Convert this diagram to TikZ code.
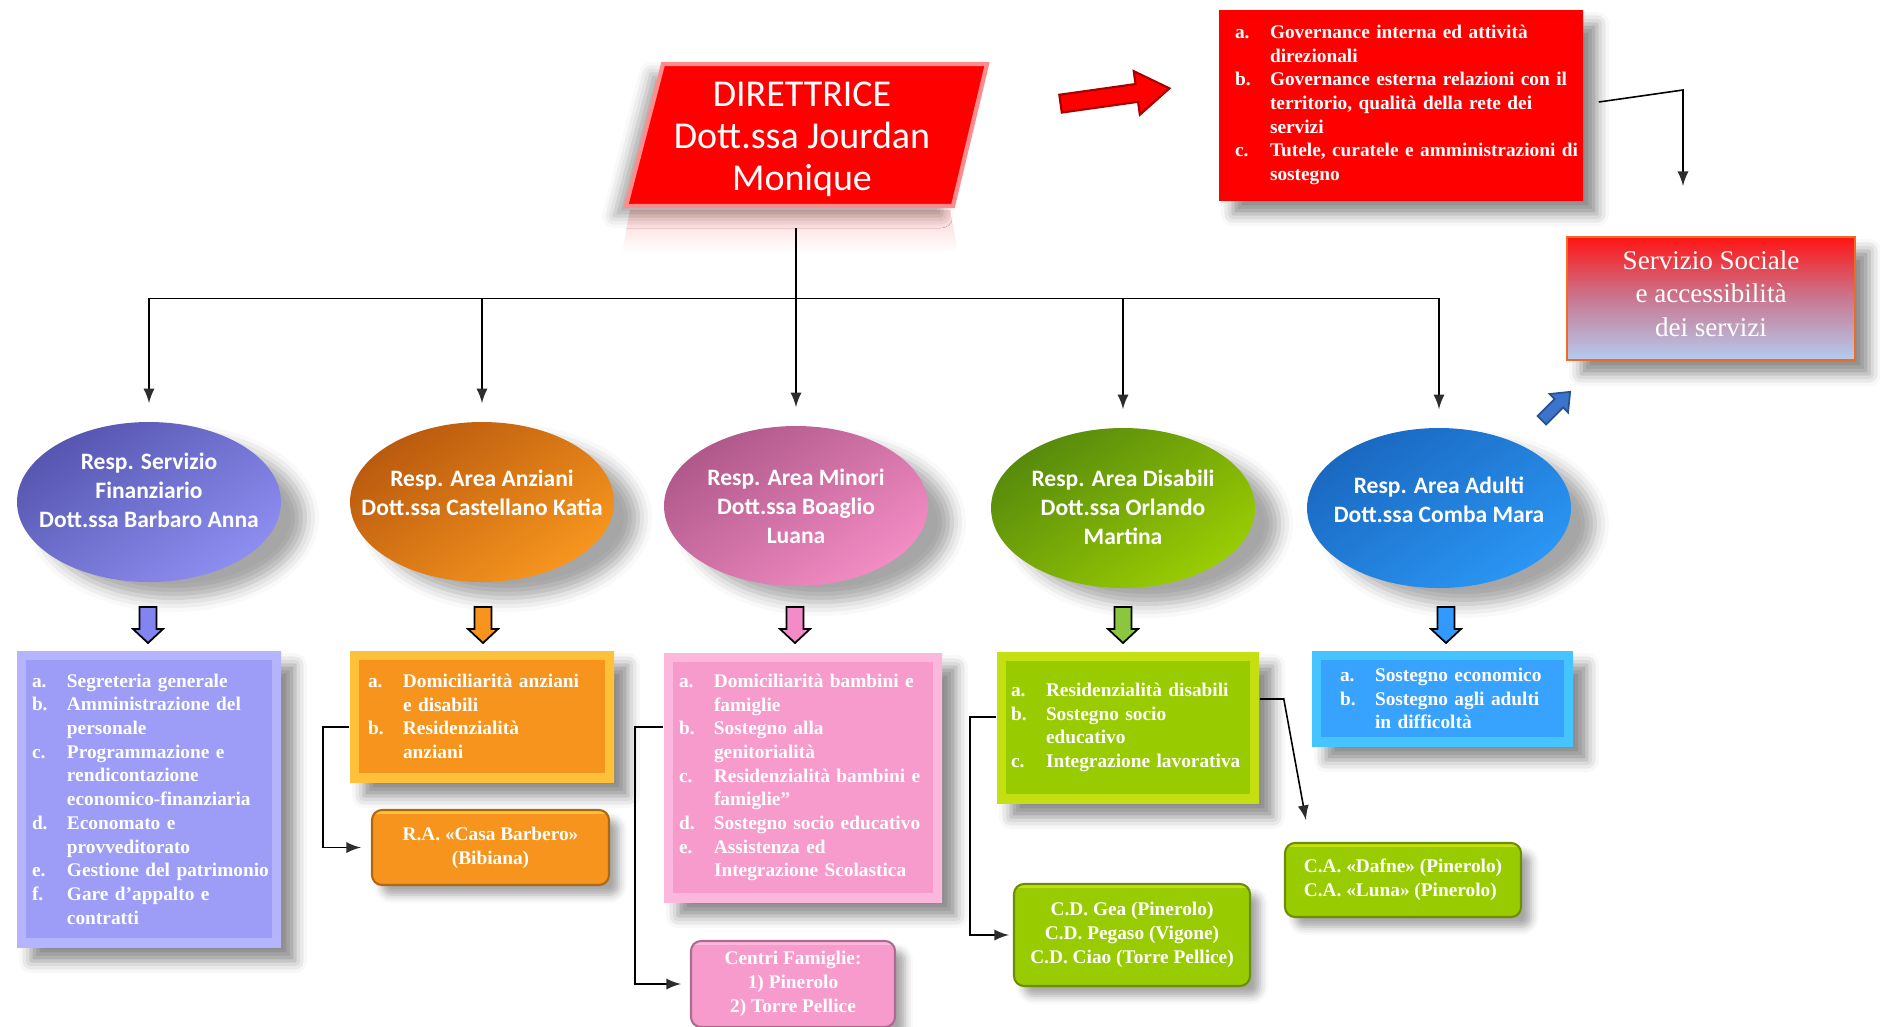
\documentclass[tikz,border=0pt]{standalone}
\usepackage{fontspec}
\setmainfont{Liberation Serif}
\newfontfamily\calib{Carlito}
\usetikzlibrary{shapes.geometric,shadows.blur}

% colours
\definecolor{finA}{HTML}{5656B0}
\definecolor{finB}{HTML}{8E8EF2}
\definecolor{finbox}{HTML}{9D9DF8}
\definecolor{finbev}{HTML}{B4B4FF}
\definecolor{arrfin}{HTML}{8484F0}
\definecolor{anzA}{HTML}{BA5A0E}
\definecolor{anzB}{HTML}{F7961E}
\definecolor{anzbox}{HTML}{F7941D}
\definecolor{anzbev}{HTML}{FFC03A}
\definecolor{arranz}{HTML}{F7941D}
\definecolor{minA}{HTML}{B0588A}
\definecolor{minB}{HTML}{F38DC4}
\definecolor{minbox}{HTML}{F79BCD}
\definecolor{minbev}{HTML}{FBB8DC}
\definecolor{arrmin}{HTML}{F58AC8}
\definecolor{disA}{HTML}{578A0C}
\definecolor{disB}{HTML}{9ACD02}
\definecolor{disbox}{HTML}{99CC00}
\definecolor{disbev}{HTML}{C4E010}
\definecolor{arrdis}{HTML}{8CC63F}
\definecolor{aduA}{HTML}{1A68C0}
\definecolor{aduB}{HTML}{2A96F4}
\definecolor{adubox}{HTML}{38A2FF}
\definecolor{adubev}{HTML}{46C4FF}
\definecolor{arradu}{HTML}{3399FF}
\definecolor{govbox}{HTML}{FF0000}
\definecolor{govbev}{HTML}{FA0000}
\definecolor{dirrim}{HTML}{FF8C8C}
\definecolor{servtop}{HTML}{FF1414}
\definecolor{servmid}{HTML}{C87890}
\definecolor{servbot}{HTML}{B4CCF0}
\definecolor{servrim}{HTML}{F26A22}
\definecolor{bluearr}{HTML}{3C74CC}

\newcommand{\li}[2]{\mbox{\makebox[3.5mm][l]{#1}#2}}
\newcommand{\lc}[1]{\mbox{\makebox[3.5mm]{}#1}}

\tikzset{
  resp/.style={ellipse, minimum width=26.4mm, minimum height=16mm, inner sep=0pt,
    top color=#1A, bottom color=#1B, shading angle=35,
    blur shadow={shadow xshift=2.4mm, shadow yshift=-1.6mm, shadow blur radius=1.4mm, shadow opacity=35}},
  elltext/.style={text=white, align=center, inner sep=0pt,
    font=\calib\bfseries\fontsize{6.7}{8.25}\selectfont},
  dirtext/.style={text=white, align=center, inner sep=0pt,
    font=\calib\fontsize{10.8}{11.95}\selectfont},
  listbox/.style={rectangle, fill=#1box, text=white, align=left, inner ysep=0pt,
    font=\bfseries\fontsize{5.5}{6.74}\selectfont,
    blur shadow={shadow xshift=1.4mm, shadow yshift=-1.4mm, shadow blur radius=1.2mm, shadow opacity=45},
    path picture={\draw[#1bev, line width=5pt] (path picture bounding box.south west) rectangle (path picture bounding box.north east);}},
  subbox/.style={rectangle, rounded corners=1mm, fill=#1box, draw=#1box!70!black, line width=0.6pt,
    text=white, align=center, inner sep=0pt,
    font=\bfseries\fontsize{5.5}{6.74}\selectfont,
    blur shadow={shadow xshift=1mm, shadow yshift=-1mm, shadow blur radius=0.8mm, shadow opacity=35},
    path picture={\draw[#1bev, line width=2.5pt] (path picture bounding box.north west) -- (path picture bounding box.north east);}},
}

\begin{document}
\begin{tikzpicture}[x=0.1mm, y=-0.1mm, >=latex, line width=0.45pt]
\useasboundingbox (0,0) rectangle (1880,1026);

% direttrice
\shade[top color=red!18, bottom color=white] (630,210) -- (950,210) -- (958,252) -- (622,252) -- cycle;
\draw[fill=red, draw=dirrim, line width=1.2pt,
  blur shadow={shadow xshift=-1.2mm, shadow yshift=-1mm, shadow blur radius=1.2mm, shadow opacity=35}]
  (663,64) -- (987,64) -- (953,206) -- (626,206) -- cycle;
\node[dirtext] (dir) at (802,139.5) {DIRETTRICE\\Dott.ssa Jourdan\\Monique};
\coordinate (dirbot) at (796,228);
\coordinate (bus) at (796,298.5);

% block arrows
\begin{scope}[shift={(1115,96)}, rotate=8]
  \draw[fill=red, draw=red!65!black, line width=0.6pt]
    (-55,-9) -- (22,-9) -- (22,-22) -- (55,0) -- (22,22) -- (22,9) -- (-55,9) -- cycle;
\end{scope}
\begin{scope}[shift={(1556,406)}, rotate=45]
  \draw[fill=bluearr, draw=bluearr!70!black, line width=0.5pt]
    (-20,-6) -- (4,-6) -- (4,-13) -- (20,0) -- (4,13) -- (4,6) -- (-20,6) -- cycle;
\end{scope}

% staff
\node[listbox=gov, text width=33.2mm, inner xsep=1.6mm, minimum height=19mm] (gov) at (1401,105)
  {\li{a.}{Governance interna ed attività}\\
   \lc{direzionali}\\
   \li{b.}{Governance esterna relazioni con il}\\
   \lc{territorio, qualità della rete dei}\\
   \lc{servizi}\\
   \li{c.}{Tutele, curatele e amministrazioni di}\\
   \lc{sostegno}};
\node[rectangle, minimum width=28.8mm, minimum height=12.3mm, inner sep=0pt, text depth=1mm,
  top color=servtop, bottom color=servbot, middle color=servmid,
  draw=servrim, line width=0.8pt, text=white, align=center,
  font=\fontsize{7.7}{9.5}\selectfont,
  blur shadow={shadow xshift=1.4mm, shadow yshift=-1.4mm, shadow blur radius=1.2mm, shadow opacity=45}]
  (serv) at (1711,298.5) {Servizio Sociale\\e accessibilità\\dei servizi};
\coordinate (bend) at (1683,90);
\coordinate (servin) at (1683,186);
\draw[->] ([shift={(1.5mm,0.3mm)}]gov.east) -- (bend) -- (servin);

% responsabili
\node[resp=fin, label={[elltext, name=fintxt, yshift=1.2mm]center:Resp. Servizio\\Finanziario\\Dott.ssa Barbaro Anna}] (fin) at (149,502) {};
\node[resp=anz, label={[elltext, name=anztxt, yshift=0.95mm]center:Resp. Area Anziani\\Dott.ssa Castellano Katia}] (anz) at (482,502) {};
\node[resp=min, label={[elltext, name=mintxt]center:Resp. Area Minori\\Dott.ssa Boaglio\\Luana}] (min) at (796,506) {};
\node[resp=dis, label={[elltext, name=distxt, yshift=0.1mm]center:Resp. Area Disabili\\Dott.ssa Orlando\\Martina}] (dis) at (1123,508) {};
\node[resp=adu, label={[elltext, name=adutxt, yshift=0.8mm]center:Resp. Area Adulti\\Dott.ssa Comba Mara}] (adu) at (1439,508) {};

\draw (dirbot) -- (bus);
\foreach \n in {fin,anz,min,dis,adu}
  \draw[->] (bus) -| ([yshift=1.8mm]\n.north);

% down arrows
\foreach \x/\c in {148/fin, 483/anz, 795/min, 1123/dis, 1446/adu} {
  \begin{scope}[shift={(\x,607)}]
    \draw[fill=arr\c, line width=0.5pt] (-8.5,0) -- (8.5,0) -- (8.5,22) -- (15,22) -- (0,36) -- (-15,22) -- (-8.5,22) -- cycle;
  \end{scope}
}

% servizi
\node[listbox=fin, text width=23.4mm, inner xsep=1.5mm, minimum height=29.6mm] (finbox) at (149,799)
  {\li{a.}{Segreteria generale}\\
   \li{b.}{Amministrazione del}\\
   \lc{personale}\\
   \li{c.}{Programmazione e}\\
   \lc{rendicontazione}\\
   \lc{economico-finanziaria}\\
   \li{d.}{Economato e}\\
   \lc{provveditorato}\\
   \li{e.}{Gestione del patrimonio}\\
   \li{f.}{Gare d’appalto e}\\
   \lc{contratti}};
\node[listbox=anz, text width=22.8mm, inner xsep=1.8mm, minimum height=13.1mm] (anzbox) at (482,716.5)
  {\li{a.}{Domiciliarità anziani}\\
   \lc{e disabili}\\
   \li{b.}{Residenzialità}\\
   \lc{anziani}};
\node[listbox=min, text width=24.8mm, inner xsep=1.5mm, minimum height=24.9mm] (minbox) at (803,777.5)
  {\li{a.}{Domiciliarità bambini e}\\
   \lc{famiglie}\\
   \li{b.}{Sostegno alla}\\
   \lc{genitorialità}\\
   \li{c.}{Residenzialità bambini e}\\
   \lc{famiglie”}\\
   \li{d.}{Sostegno socio educativo}\\
   \li{e.}{Assistenza ed}\\
   \lc{Integrazione Scolastica}};
\node[listbox=dis, text width=23.4mm, inner xsep=1.4mm, minimum height=15.1mm] (disbox) at (1128,727.5)
  {\li{a.}{Residenzialità disabili}\\
   \li{b.}{Sostegno socio}\\
   \lc{educativo}\\
   \li{c.}{Integrazione lavorativa}};
\node[listbox=adu, text width=20.5mm, inner xsep=2.8mm, minimum height=9.5mm] (adubox) at (1442.5,698.5)
  {\li{a.}{Sostegno economico}\\
   \li{b.}{Sostegno agli adulti}\\
   \lc{in difficoltà}};

% strutture
\node[subbox=anz, minimum width=23.7mm, minimum height=7.5mm] (ra) at (490.5,847.5)
  {R.A. «Casa Barbero»\\(Bibiana)};
\node[subbox=min, minimum width=20.4mm, minimum height=8.6mm] (cf) at (793,984)
  {Centri Famiglie:\\1) Pinerolo\\2) Torre Pellice};
\node[subbox=dis, minimum width=23.6mm, minimum height=10.2mm] (cd) at (1132,935)
  {C.D. Gea (Pinerolo)\\C.D. Pegaso (Vigone)\\C.D. Ciao (Torre Pellice)};
\node[subbox=dis, align=left, minimum width=23.6mm, minimum height=7.4mm] (ca) at (1403,880)
  {C.A. «Dafne» (Pinerolo)\\C.A. «Luna» (Pinerolo)};

\draw[->] ([yshift=-1.05mm]anzbox.west) -- ++(-26,0) |- ([xshift=-1mm]ra.west);
\draw[->] ([yshift=5.05mm]minbox.west) -- ++(-28,0) |- ([xshift=-0.9mm]cf.west);
\draw[->] ([yshift=1.05mm]disbox.west) -- ++(-26,0) |- ([xshift=-0.4mm]cd.west);
\draw[->] ([yshift=2.85mm]disbox.east) -- ++(24,0) -- ([shift={(2.2mm,2.2mm)}]ca.north west);
\end{tikzpicture}
\end{document}
